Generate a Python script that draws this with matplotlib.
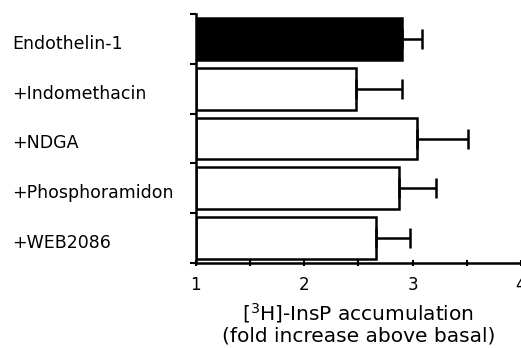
import numpy as np
import matplotlib.pyplot as plt
from matplotlib.transforms import blended_transform_factory

plt.rcParams['font.family'] = ['DejaVu Sans']

# data
labels = ['Endothelin-1', '+Indomethacin', '+NDGA', '+Phosphoramidon', '+WEB2086']
values = [2.90, 2.48, 3.04, 2.87, 2.66]
errors = [0.19, 0.42, 0.47, 0.35, 0.32]
colors = ['black', 'white', 'white', 'white', 'white']

fig = plt.figure(figsize=(5.21, 3.48), dpi=100)
ax = fig.add_axes([0.376, 0.244, 0.624, 0.716])

y = np.arange(len(labels))
ax.barh(y, np.array(values) - 1, left=1, height=0.84, color=colors,
        edgecolor='black', linewidth=1.8)
ax.errorbar(values, y, xerr=[np.zeros(len(errors)), errors], fmt='none',
            ecolor='black', elinewidth=1.8, capsize=7, capthick=1.8)

ax.set_xlim(1, 4)
ax.set_ylim(len(labels) - 0.5, -0.5)
ax.set_xticks([1, 2, 3, 4])
ax.set_xticks([1.5, 2.5, 3.5], minor=True)
ax.set_yticks(np.arange(len(labels) + 1) - 0.5)
ax.set_yticklabels([])
ax.tick_params(axis='x', which='both', direction='inout', length=5, width=1.5,
               labelsize=12, pad=7)
ax.tick_params(axis='y', direction='out', length=4, width=1.5)

for side in ['top', 'right']:
    ax.spines[side].set_visible(False)
for side in ['left', 'bottom']:
    ax.spines[side].set_linewidth(1.8)

# category labels sit left-aligned near the figure edge
trans = blended_transform_factory(fig.transFigure, ax.transData)
for i, lab in enumerate(labels):
    ax.text(12 / 521, i + 0.1, lab, transform=trans, ha='left', va='center',
            fontsize=12.5)

ax.set_xlabel('[$^3$H]-InsP accumulation\n(fold increase above basal)',
              fontsize=14.5, labelpad=5, linespacing=1.1)

fig.savefig('out.png', dpi=100)
